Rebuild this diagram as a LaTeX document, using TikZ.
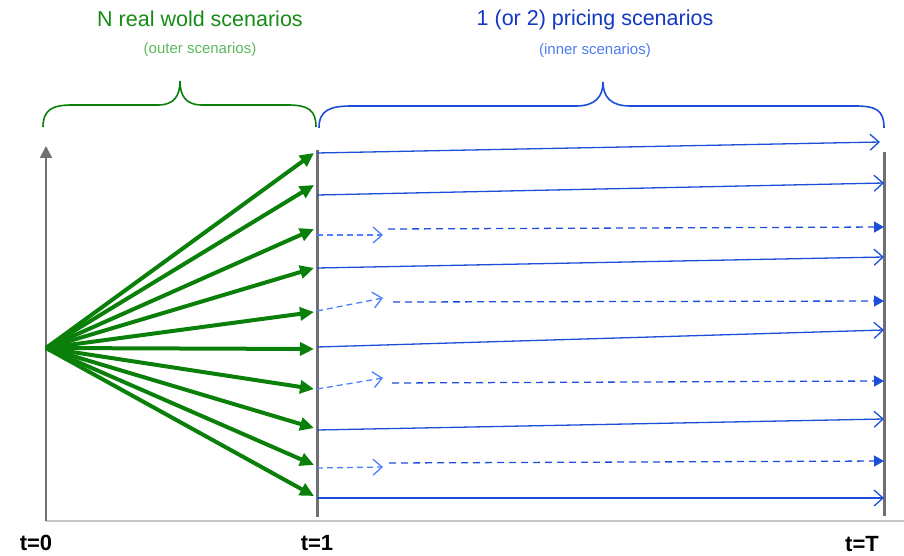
\documentclass[tikz,border=0pt]{standalone}
\usepackage{fontspec}
\setmainfont{Liberation Sans}
\usetikzlibrary{arrows.meta,positioning}

\definecolor{axisgray}{HTML}{707074}
\definecolor{basegray}{HTML}{C8C8C8}
\definecolor{realgreen}{HTML}{0A800A}
\definecolor{realtext}{HTML}{168C16}
\definecolor{reallight}{HTML}{5DB85D}
\definecolor{priceblue}{HTML}{1B4FD8}
\definecolor{pricelight}{HTML}{4F7FFF}
\definecolor{pricetext}{HTML}{1238C4}
\definecolor{pricesub}{HTML}{4D7CF0}

\begin{document}
\begin{tikzpicture}[
  x=1pt,y=-1pt,
  axis/.style={draw=axisgray, line width=1.8pt},
  timeline/.style={draw=axisgray, line width=3pt},
  real/.style={draw=realgreen, line width=4pt, -{Triangle[length=14pt,width=13pt]}},
  price/.style={draw=priceblue, line width=1.3pt, -{Straight Barb[length=9pt,width=16pt,line width=1.3pt]}},
  restart/.style={draw=pricelight, line width=1.3pt, dash pattern=on 6pt off 4pt, -{Straight Barb[length=9pt,width=16pt,line width=1.3pt]}},
  rerun/.style={draw=priceblue, line width=1.3pt, dash pattern=on 7pt off 5pt, -{Triangle[length=10pt,width=11pt]}},
  brace/.style={line width=1.6pt},
  title/.style={font=\fontsize{21.5}{25}\selectfont},
  sub/.style={font=\fontsize{15}{18}\selectfont},
  tick/.style={font=\fontsize{22}{26}\selectfont\bfseries, inner sep=1pt}
]
\useasboundingbox (0,0) rectangle (904,556);

% axes and the two time lines
\coordinate (o) at (46,348);
\coordinate (ybot) at (46,521);
\coordinate (ytop) at (46,146);
\coordinate (xend) at (904,521);
\draw[draw=basegray, line width=1.5pt] (ybot) -- (xend);
\draw[axis, -{Triangle[length=12pt,width=12pt]}] (ybot) -- (ytop);
\coordinate (one top) at (317,150);
\coordinate (one bot) at (317,517);
\coordinate (T top) at (884,152);
\coordinate (T bot) at (884,516);
\draw[timeline] (one top) -- (one bot);
\draw[timeline] (T top) -- (T bot);

% outer (real world) scenarios
\foreach \y [count=\i] in {153,185,229,268,312,349,389,428,465,496}{
  \coordinate (g\i) at (314,\y);
  \draw[real] (o) -- (g\i);
}

% inner (pricing) scenarios, full paths
\foreach \ya/\yb/\xb [count=\i] in {153/142/880,195/183/884,268/257/884,347/330/884,430/419/884,498/498/884}{
  \coordinate (ps\i) at (317,\ya);
  \coordinate (pe\i) at (\xb,\yb);
  \draw[price] (ps\i) -- (pe\i);
}

% inner scenarios restarted after a short step
\foreach \ya/\yb/\xc/\yc/\yd [count=\i] in {235/235/388/229/227,311/298/393/302/301,389/378/392/383/381,468/467/389/463/461}{
  \coordinate (rs\i) at (317,\ya);
  \coordinate (rm\i) at (383,\yb);
  \coordinate (rc\i) at (\xc,\yc);
  \coordinate (re\i) at (884,\yd);
  \draw[restart] (rs\i) -- (rm\i);
  \draw[rerun] (rc\i) -- (re\i);
}

% braces
\coordinate (gl) at (43,127);
\coordinate (gt) at (180,81);
\coordinate (gr) at (316,127);
\draw[brace, realgreen] (gl) .. controls (43,110) and (52,105) .. (72,105) -- (158,105)
  .. controls (174,105) and (180,96) .. (gt) .. controls (180,96) and (186,105) .. (202,105)
  -- (288,105) .. controls (308,105) and (316,110) .. (gr);
\coordinate (bl) at (319,128);
\coordinate (bt) at (603,82);
\coordinate (br) at (884,128);
\draw[brace, priceblue] (bl) .. controls (319,110) and (330,106) .. (352,106) -- (576,106)
  .. controls (595,106) and (603,97) .. (bt) .. controls (603,97) and (611,106) .. (630,106)
  -- (855,106) .. controls (876,106) and (884,110) .. (br);

% labels
\node[title, text=realtext] (realtitle) at (200,19) {N real wold scenarios};
\node[sub, text=reallight] (realsub) at (200,50) {(outer scenarios)};
\node[title, text=pricetext] (pricetitle) at (595,20) {1 (or 2) pricing scenarios};
\node[sub, text=pricesub] (pricesub) at (595,51) {(inner scenarios)};
\node[tick] (t0) at (36,543) {t=0};
\node[tick] (t1) at (317,543) {t=1};
\node[tick] (tT) at (862,544) {t=T};
\end{tikzpicture}
\end{document}
